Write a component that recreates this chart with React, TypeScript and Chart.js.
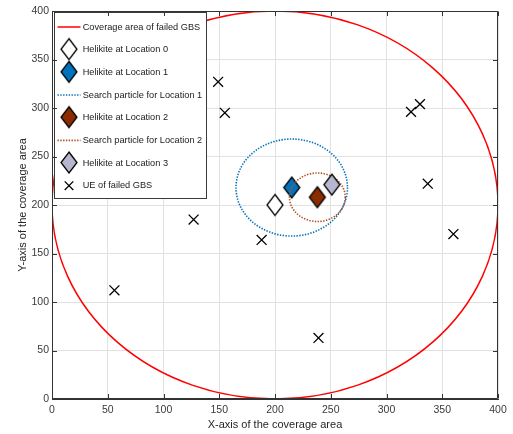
import React, { useEffect, useRef } from "react";
import { Chart, registerables } from "chart.js";

Chart.register(...registerables);

const FONT = '"Liberation Sans", Arial, Helvetica, sans-serif';

// Axis range and ticks
const axisMin = 0;
const axisMax = 400;
const axisStep = 50;

// Failed ground base station coverage disc
const gbsCenterX = 200;
const gbsCenterY = 200;
const gbsRadius = 200;

// Helikite positions (Location 0..3)
const helikiteLabels = [
  "Helikite at Location 0",
  "Helikite at Location 1",
  "Helikite at Location 2",
  "Helikite at Location 3",
];
const helikiteX = [200, 215, 238, 251];
const helikiteY = [200, 218, 208, 221];
const helikiteFill = ["#ffffff", "#0072bd", "#8b2c00", "#b6b6cf"];

// Search particle radius around Location 1 and Location 2
const searchRadius = [50, 25];
const searchColors = ["#0072bd", "#b44e1e"];

// Users of the failed GBS
const ueX = [149, 155, 127, 56, 188, 239, 360, 322, 330, 337];
const ueY = [327, 295, 185, 112, 164, 63, 170, 296, 304, 222];

const DIAMOND_HW = 8;
const DIAMOND_HH = 10.5;
const DIAMOND_LW = 1.3;

function diamondImage(fill: string): HTMLCanvasElement {
  const c = document.createElement("canvas");
  const w = Math.ceil(2 * DIAMOND_HW + 2 * DIAMOND_LW) + 1;
  const h = Math.ceil(2 * DIAMOND_HH + 2 * DIAMOND_LW) + 1;
  c.width = w;
  c.height = h;
  const ctx = c.getContext("2d")!;
  const cx = w / 2;
  const cy = h / 2;
  ctx.beginPath();
  ctx.moveTo(cx, cy - DIAMOND_HH);
  ctx.lineTo(cx + DIAMOND_HW, cy);
  ctx.lineTo(cx, cy + DIAMOND_HH);
  ctx.lineTo(cx - DIAMOND_HW, cy);
  ctx.closePath();
  ctx.fillStyle = fill;
  ctx.fill();
  ctx.lineWidth = DIAMOND_LW;
  ctx.lineJoin = "miter";
  ctx.strokeStyle = "#000000";
  ctx.stroke();
  return c;
}

// Draws circles (coverage / search areas) right after their dataset, through the scales
const ringPlugin = {
  id: "rings",
  afterDatasetDraw(chart: any, args: any) {
    const ds = chart.data.datasets[args.index];
    if (!ds.ring) return;
    const xs = chart.scales.x;
    const ys = chart.scales.y;
    const c = ds.data[0];
    const px = xs.getPixelForValue(c.x);
    const py = ys.getPixelForValue(c.y);
    const rx = Math.abs(xs.getPixelForValue(c.x + ds.ring.r) - px);
    const ry = Math.abs(ys.getPixelForValue(c.y + ds.ring.r) - py);
    const a = chart.chartArea;
    const ctx = chart.ctx;
    ctx.save();
    ctx.beginPath();
    ctx.rect(a.left, a.top, a.right - a.left, a.bottom - a.top);
    ctx.clip();
    ctx.beginPath();
    ctx.ellipse(px, py, rx, ry, 0, 0, Math.PI * 2);
    ctx.strokeStyle = ds.borderColor;
    ctx.lineWidth = ds.borderWidth;
    ctx.setLineDash(ds.ring.dash);
    ctx.stroke();
    ctx.restore();
  },
};

// Boxed legend in the upper-left corner of the plot
const legendPlugin = {
  id: "boxLegend",
  afterDraw(chart: any) {
    const ctx = chart.ctx;
    const a = chart.chartArea;
    const left = a.left + 2;
    const top = a.top + 1;
    const width = 152;
    const height = 186;
    ctx.save();
    ctx.fillStyle = "#ffffff";
    ctx.fillRect(left, top, width, height);
    ctx.strokeStyle = "#3a3a3a";
    ctx.lineWidth = 1;
    ctx.strokeRect(Math.round(left) + 0.5, Math.round(top) + 0.5, width, height);

    const rowGap = 22.67;
    const symX = left + 15;
    const textX = left + 28.7;
    ctx.font = `9.2px ${FONT}`;
    ctx.textBaseline = "middle";
    ctx.textAlign = "left";
    chart.data.datasets.forEach((ds: any, i: number) => {
      const y = top + 15 + i * rowGap;
      if (ds.ring) {
        ctx.beginPath();
        ctx.moveTo(symX - 11.5, y);
        ctx.lineTo(symX + 11.5, y);
        ctx.strokeStyle = ds.borderColor;
        ctx.lineWidth = ds.borderWidth;
        ctx.setLineDash(ds.ring.dash);
        ctx.stroke();
        ctx.setLineDash([]);
      } else if (ds.pointStyle instanceof HTMLCanvasElement) {
        const img = ds.pointStyle;
        ctx.drawImage(img, symX - img.width / 2, y - img.height / 2 - 0.5);
      } else {
        const r = 4.3;
        ctx.beginPath();
        ctx.moveTo(symX - r, y - r);
        ctx.lineTo(symX + r, y + r);
        ctx.moveTo(symX + r, y - r);
        ctx.lineTo(symX - r, y + r);
        ctx.strokeStyle = "#000000";
        ctx.lineWidth = 1.3;
        ctx.stroke();
      }
      ctx.fillStyle = "#1a1a1a";
      ctx.fillText(ds.label, textX, y);
    });
    ctx.restore();
  },
};

// Box around the axes with inward tick marks on all sides
const framePlugin = {
  id: "frame",
  afterDraw(chart: any) {
    const ctx = chart.ctx;
    const a = chart.chartArea;
    const xs = chart.scales.x;
    const ys = chart.scales.y;
    const L = Math.round(a.left) + 0.5;
    const R = Math.round(a.right) - 0.5;
    const T = Math.round(a.top) + 0.5;
    const B = Math.round(a.bottom) - 0.5;
    const tl = 4.5;
    ctx.save();
    ctx.strokeStyle = "#333333";
    ctx.lineWidth = 1;
    ctx.beginPath();
    ctx.rect(L, T, R - L, B - T);
    for (const t of xs.ticks) {
      const px = Math.round(xs.getPixelForValue(t.value)) + 0.5;
      ctx.moveTo(px, B);
      ctx.lineTo(px, B - tl);
      ctx.moveTo(px, T);
      ctx.lineTo(px, T + tl);
    }
    for (const t of ys.ticks) {
      const py = Math.round(ys.getPixelForValue(t.value)) + 0.5;
      ctx.moveTo(L, py);
      ctx.lineTo(L + tl, py);
      ctx.moveTo(R, py);
      ctx.lineTo(R - tl, py);
    }
    ctx.stroke();
    ctx.restore();
  },
};

export default function App() {
  const ref = useRef<HTMLCanvasElement | null>(null);

  useEffect(() => {
    if (!ref.current) return;
    const datasets: any[] = [];
    datasets.push({
      label: "Coverage area of failed GBS",
      data: [{ x: gbsCenterX, y: gbsCenterY }],
      pointRadius: 0,
      borderColor: "#ff0000",
      borderWidth: 1.5,
      ring: { r: gbsRadius, dash: [] },
    });
    const helikite = (k: number) => ({
      label: helikiteLabels[k],
      data: [{ x: helikiteX[k], y: helikiteY[k] }],
      pointStyle: diamondImage(helikiteFill[k]),
      pointRadius: 10,
    });
    const search = (k: number, at: number) => ({
      label: `Search particle for Location ${at}`,
      data: [{ x: helikiteX[at], y: helikiteY[at] }],
      pointRadius: 0,
      borderColor: searchColors[k],
      borderWidth: 1.6,
      ring: { r: searchRadius[k], dash: [1.4, 1.4] },
    });
    datasets.push(helikite(0));
    datasets.push(helikite(1));
    datasets.push(search(0, 1));
    datasets.push(helikite(2));
    datasets.push(search(1, 2));
    datasets.push(helikite(3));
    datasets.push({
      label: "UE of failed GBS",
      data: ueX.map((x, i) => ({ x, y: ueY[i] })),
      pointStyle: "crossRot",
      pointRadius: 7,
      borderColor: "#000000",
      borderWidth: 1.3,
    });
    // later datasets are painted on top
    datasets.forEach((d, i) => (d.order = -i));

    const axisCommon = (title: string, titlePadding: any, tickPadding: number, fit: (s: any) => void) => ({
      type: "linear" as const,
      min: axisMin,
      max: axisMax,
      ticks: {
        stepSize: axisStep,
        autoSkip: false,
        maxRotation: 0,
        color: "#3a3a3a",
        font: { family: FONT, size: 10.5 },
        padding: tickPadding,
      },
      grid: { color: "#e2e2e2", lineWidth: 1, drawTicks: false },
      border: { color: "#333333", width: 1 },
      title: {
        display: true,
        text: title,
        color: "#262626",
        font: { family: FONT, size: 11 },
        padding: titlePadding,
      },
      afterFit: fit,
    });

    const chart = new Chart(ref.current, {
      type: "scatter",
      data: { datasets },
      options: {
        responsive: false,
        devicePixelRatio: 1,
        animation: false,
        events: [],
        layout: { padding: { top: 7, right: 15, left: 0, bottom: 0 } },
        plugins: {
          legend: { display: false },
          tooltip: { enabled: false },
        },
        scales: {
          x: axisCommon("X-axis of the coverage area", { top: 0, bottom: 2 }, 5, (s: any) => {
            s.height = 35;
          }),
          y: axisCommon("Y-axis of the coverage area", { top: 16, bottom: 0 }, 3, (s: any) => {
            s.width = 52;
          }),
        },
      },
      plugins: [ringPlugin, legendPlugin, framePlugin],
    } as any);
    return () => chart.destroy();
  }, []);

  return (
    <div style={{ position: "fixed", left: 0, top: 0, width: 513, height: 434, background: "#ffffff" }}>
      <canvas ref={ref} width={513} height={434} style={{ display: "block" }} />
    </div>
  );
}
